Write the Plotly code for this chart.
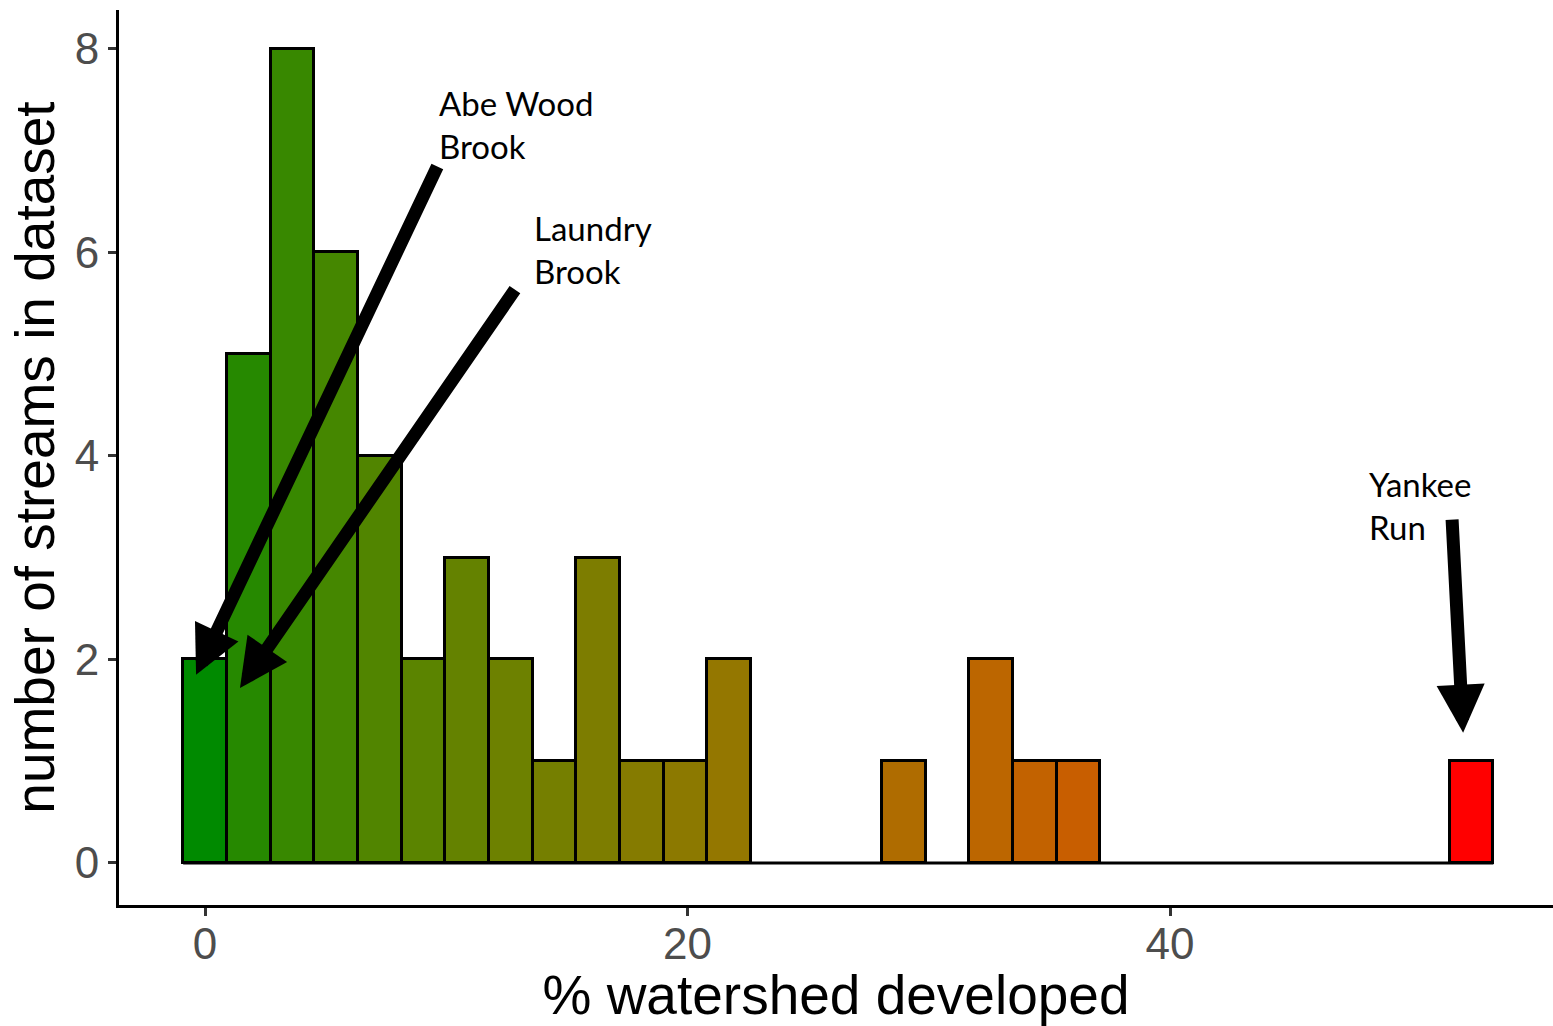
import plotly.graph_objects as go

# ---- data (30 bins) ----
bin_centers = [0.00, 1.81, 3.62, 5.43, 7.24, 9.05, 10.86, 12.67, 14.48, 16.29,
               18.10, 19.91, 21.72, 23.53, 25.34, 27.16, 28.97, 30.78, 32.59, 34.40,
               36.21, 38.02, 39.83, 41.64, 43.45, 45.26, 47.07, 48.88, 50.69, 52.50]
counts = [2, 5, 8, 6, 4, 2, 3, 2, 1, 3,
          1, 1, 2, 0, 0, 0, 1, 0, 2, 1,
          1, 0, 0, 0, 0, 0, 0, 0, 0, 1]
bin_width = 1.81

x_ticks = [0, 20, 40]
y_ticks = [0, 2, 4, 6, 8]

x_title = "% watershed developed"
y_title = "number of streams in dataset"

labels = ["Abe Wood<br>Brook", "Laundry<br>Brook", "Yankee<br>Run"]
label_x = [9.6, 13.55, 48.15]
label_y = [7.26, 6.03, 3.51]
arrow_tip_x = [-0.37, 1.45, 52.15]
arrow_tip_y = [1.85, 1.72, 1.28]
arrow_tail_x = [9.66, 12.89, 51.69]
arrow_tail_y = [6.86, 5.65, 3.39]

low_col = "#008A00"
high_col = "#FF0000"


# ---- Lab colour interpolation (like ggplot's scale_fill_gradient) ----
def _hex2rgb(h):
    h = h.lstrip("#")
    return [int(h[i:i + 2], 16) / 255 for i in (0, 2, 4)]


def _lin(c):
    return c / 12.92 if c <= 0.04045 else ((c + 0.055) / 1.055) ** 2.4


def _delin(c):
    v = 12.92 * c if c <= 0.0031308 else 1.055 * c ** (1 / 2.4) - 0.055
    return min(1, max(0, v))


WX, WY, WZ = 0.95047, 1.0, 1.08883


def _f(t):
    return t ** (1 / 3) if t > 216 / 24389 else (24389 / 27 * t + 16) / 116


def _finv(t):
    return t ** 3 if t ** 3 > 216 / 24389 else (116 * t - 16) / (24389 / 27)


def rgb2lab(rgb):
    r, g, b = [_lin(c) for c in rgb]
    X = 0.4124 * r + 0.3576 * g + 0.1805 * b
    Y = 0.2126 * r + 0.7152 * g + 0.0722 * b
    Z = 0.0193 * r + 0.1192 * g + 0.9505 * b
    fx, fy, fz = _f(X / WX), _f(Y / WY), _f(Z / WZ)
    return [116 * fy - 16, 500 * (fx - fy), 200 * (fy - fz)]


def lab2hex(lab):
    L, a, b = lab
    fy = (L + 16) / 116
    fx = fy + a / 500
    fz = fy - b / 200
    X, Y, Z = WX * _finv(fx), WY * _finv(fy), WZ * _finv(fz)
    r = 3.2406 * X - 1.5372 * Y - 0.4986 * Z
    g = -0.9689 * X + 1.8758 * Y + 0.0415 * Z
    bb = 0.0557 * X - 0.2040 * Y + 1.0570 * Z
    return "#%02X%02X%02X" % tuple(int(round(_delin(c) * 255)) for c in (r, g, bb))


lab_lo, lab_hi = rgb2lab(_hex2rgb(low_col)), rgb2lab(_hex2rgb(high_col))
xmin, xmax = min(bin_centers), max(bin_centers)
bar_colors = []
for c in bin_centers:
    t = (c - xmin) / (xmax - xmin)
    bar_colors.append(lab2hex([lo + (hi - lo) * t for lo, hi in zip(lab_lo, lab_hi)]))

# ---- figure ----
fig = go.Figure()
nz = [i for i, v in enumerate(counts) if v > 0]
fig.add_trace(go.Bar(
    x=[bin_centers[i] for i in nz],
    y=[counts[i] for i in nz],
    width=bin_width,
    marker=dict(color=[bar_colors[i] for i in nz],
                line=dict(color="black", width=3)),
    showlegend=False,
    hoverinfo="x+y",
))
# zero-count bins drawn as outline along the baseline
fig.add_trace(go.Scatter(
    x=[bin_centers[0] - bin_width / 2, bin_centers[-1] + bin_width / 2],
    y=[0, 0],
    mode="lines",
    line=dict(color="black", width=3),
    showlegend=False,
    hoverinfo="skip",
))

annotations = []
for i in range(len(labels)):
    annotations.append(dict(
        x=arrow_tip_x[i], y=arrow_tip_y[i], xref="x", yref="y",
        ax=arrow_tail_x[i], ay=arrow_tail_y[i], axref="x", ayref="y",
        text="", showarrow=True, arrowhead=2, arrowsize=0.74,
        arrowwidth=13, arrowcolor="black", standoff=0,
    ))
    annotations.append(dict(
        x=label_x[i], y=label_y[i], xref="x", yref="y",
        text=labels[i], showarrow=False, xanchor="left", yanchor="middle",
        align="left", font=dict(family="Lato, Open Sans, sans-serif", size=33, color="black"),
    ))

axis_common = dict(
    showgrid=False, zeroline=False, showline=True, linecolor="black", linewidth=3,
    ticks="outside", ticklen=8, tickwidth=3, tickcolor="#333333", automargin=False,
    tickfont=dict(family="Liberation Sans, Arial, sans-serif", size=44, color="#4D4D4D"),
)

fig.update_layout(
    width=1553, height=1026,
    paper_bgcolor="white", plot_bgcolor="white",
    margin=dict(l=119, r=0, t=10, b=121, autoexpand=False),
    font=dict(family="Liberation Sans, Arial, sans-serif"),
    bargap=0,
    xaxis=dict(range=[-3.565, 55.876], tickvals=x_ticks, ticktext=[str(v) for v in x_ticks],
               ticklabelstandoff=-10,
               title=dict(text=x_title, standoff=2,
                          font=dict(family="Liberation Sans, Arial, sans-serif", size=55, color="black")),
               **axis_common),
    yaxis=dict(range=[-0.413, 8.383], tickvals=y_ticks, ticktext=[str(v) for v in y_ticks],
               title=dict(text=y_title, standoff=3,
                          font=dict(family="Liberation Sans, Arial, sans-serif", size=55, color="black")),
               **axis_common),
    annotations=annotations,
)

# remove the browser's default 8px page margin so the figure sits at (0, 0)
fig.write_html("out.html", default_width="1553px", default_height="1026px",
               config={"displayModeBar": False},
               post_script="document.body.style.margin='0';document.body.style.overflow='hidden';")
